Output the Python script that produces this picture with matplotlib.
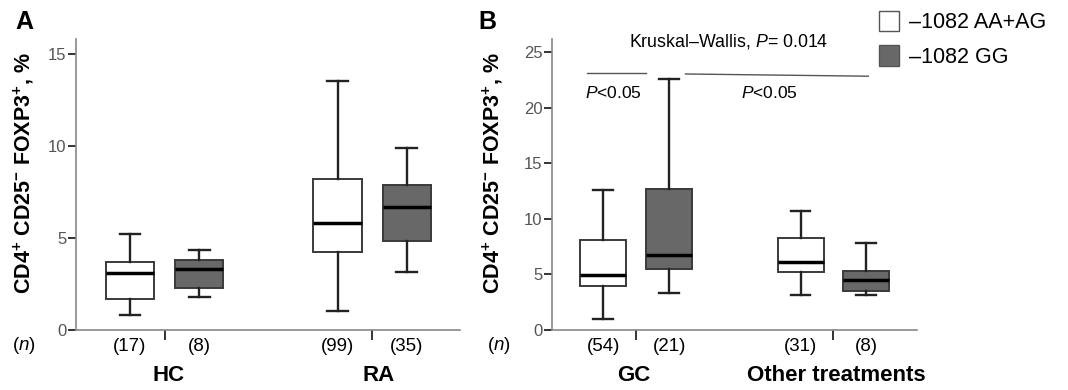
import matplotlib
matplotlib.use("Agg")
import matplotlib.pyplot as plt
from matplotlib.patches import Patch

plt.rcParams["font.family"] = ["Liberation Sans", "DejaVu Sans"]
plt.rcParams["mathtext.fontset"] = "custom"
plt.rcParams["mathtext.rm"] = "Liberation Sans"
plt.rcParams["mathtext.it"] = "Liberation Sans:italic"
plt.rcParams["mathtext.bf"] = "Liberation Sans:bold"

# Painel A: HC e RA (branco = AA+AG, cinza = GG)
grupos_A = ["HC", "RA"]
n_A = [17, 8, 99, 35]
minimo_A = [0.80, 1.81, 1.03, 3.17]
q1_A = [1.67, 2.27, 4.22, 4.85]
mediana_A = [3.08, 3.33, 5.80, 6.70]
q3_A = [3.71, 3.80, 8.20, 7.88]
maximo_A = [5.20, 4.35, 13.53, 9.90]

# Painel B: GC e outros tratamentos
grupos_B = ["GC", "Other treatments"]
n_B = [54, 21, 31, 8]
minimo_B = [1.02, 3.33, 3.18, 3.12]
q1_B = [3.96, 5.47, 5.25, 3.54]
mediana_B = [4.98, 6.76, 6.10, 4.50]
q3_B = [8.13, 12.67, 8.26, 5.32]
maximo_B = [12.60, 22.58, 10.72, 7.87]

genotipos = ["\u20131082 AA+AG", "\u20131082 GG"]
cores = ["white", "#686868"]
posicoes = [0, 1, 3, 4]

ylabel = r"CD4$^{\mathbf{+}}$ CD25$^{\mathbf{-}}$ FOXP3$^{\mathbf{+}}$, %"

W, H = 1068, 390
fig = plt.figure(figsize=(W / 100, H / 100), dpi=100)


def eixo(x0, x1, y0, y1):
    # converte pixels para fracao da figura
    return fig.add_axes([x0 / W, 1 - y1 / H, (x1 - x0) / W, (y1 - y0) / H])


def desenhar(ax, mins, q1s, meds, q3s, maxs, ns, grupos, pos_grupos, ylim, yticks):
    stats = []
    for i in range(4):
        stats.append({"whislo": mins[i], "q1": q1s[i], "med": meds[i],
                      "q3": q3s[i], "whishi": maxs[i]})
    bp = ax.bxp(stats, positions=posicoes, widths=0.7, patch_artist=True,
                showfliers=False, capwidths=0.3,
                boxprops=dict(edgecolor="#3a3a3a", linewidth=1.4),
                medianprops=dict(color="black", linewidth=2.5),
                whiskerprops=dict(color="#222222", linewidth=1.7),
                capprops=dict(color="#222222", linewidth=1.7))
    for i, caixa in enumerate(bp["boxes"]):
        caixa.set_facecolor(cores[i % 2])

    ax.set_ylim(*ylim)
    ax.set_xlim(-0.78, 4.77)
    ax.set_yticks(yticks)
    ax.set_xticks(posicoes)
    ax.set_xticklabels([f"({n})" for n in ns])
    ax.set_xticks([0.5, 3.5], minor=True)
    ax.tick_params(axis="x", which="major", length=0, labelsize=13.5, pad=6)
    ax.tick_params(axis="x", which="minor", length=7, width=1.4, color="#333333")
    ax.tick_params(axis="y", length=6, width=1.4, color="#333333",
                   labelsize=12, labelcolor="#555555", pad=1)
    for lado in ["top", "right"]:
        ax.spines[lado].set_visible(False)
    for lado in ["left", "bottom"]:
        ax.spines[lado].set_color("#888888")
        ax.spines[lado].set_linewidth(1.2)

    for g, xg in zip(grupos, pos_grupos):
        ax.text(xg, -0.157, g, transform=ax.get_xaxis_transform(),
                ha="center", va="center", fontsize=16, fontweight="bold")


axA = eixo(76, 460, 39, 330)
desenhar(axA, minimo_A, q1_A, mediana_A, q3_A, maximo_A, n_A, grupos_A,
         [0.56, 3.6], (0, 15.8), [0, 5, 10, 15])

axB = eixo(552, 917, 39, 330)
desenhar(axB, minimo_B, q1_B, mediana_B, q3_B, maximo_B, n_B, grupos_B,
         [0.46, 3.55], (0, 26.2), [0, 5, 10, 15, 20, 25])

# linhas de significancia
axB.plot([-0.25, 0.65], [23.1, 23.1], color="#555555", linewidth=1)
axB.plot([1.25, 4.03], [23.05, 22.85], color="#555555", linewidth=1)
axB.text(0.15, 21.3, r"$P$<0.05", ha="center", va="center", fontsize=12.5)
axB.text(2.52, 21.3, r"$P$<0.05", ha="center", va="center", fontsize=12.5)
axB.text(1.9, 26.0, "Kruskal\u2013Wallis, $P$= 0.014",
         ha="center", va="center", fontsize=12.8)

# rotulos dos paineis, eixo y e (n)
for x, letra in [(24, "A"), (487, "B")]:
    fig.text(x / W, 1 - 22 / H, letra, ha="center", va="center",
             fontsize=18, fontweight="bold")
for x in [24, 493]:
    fig.text(x / W, 1 - 173 / H, ylabel, rotation=90, ha="center", va="center",
             fontsize=15.5, fontweight="bold")
for x in [24, 499]:
    fig.text(x / W, 1 - 346 / H, r"($n$)", ha="center", va="center", fontsize=13.5)

handles = [Patch(facecolor=c, edgecolor="#555555", linewidth=1) for c in cores]
fig.legend(handles, genotipos, loc="upper left",
           bbox_to_anchor=(870 / W, 1 - 2 / H), frameon=False, fontsize=15.5,
           handlelength=0.95, handleheight=1.1, handletextpad=0.45,
           labelspacing=0.55, borderaxespad=0)

fig.savefig("out.png", dpi=100)
